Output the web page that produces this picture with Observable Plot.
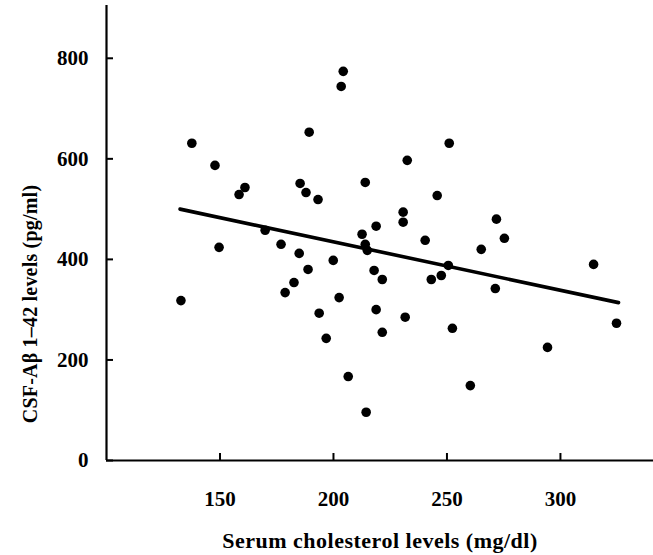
<!DOCTYPE html>
<html>
<head>
<meta charset="utf-8">
<script src="https://cdn.jsdelivr.net/npm/d3@7"></script>
<script src="https://cdn.jsdelivr.net/npm/@observablehq/plot@0.6"></script>
<style>
  body { margin: 0; background: #fff; }
  svg { display: block; }
</style>
</head>
<body>
<div id="chart"></div>
<script>
// Serum cholesterol (mg/dl) and CSF-Aβ1-42 (pg/ml)
const cholesterol = [
  132.8, 137.6, 147.8, 149.6, 158.4, 161.0, 169.9, 176.9, 184.9, 188.8,
  189.3, 185.3, 187.9, 193.2, 199.9, 182.6, 178.7, 193.7, 196.8, 204.3,
  203.4, 251.0, 232.5, 214.0, 245.7, 230.7, 230.7, 218.8, 212.6, 214.0,
  214.9, 271.8, 275.3, 240.4, 265.1, 314.6, 217.9, 221.5, 243.1, 247.5,
  250.6, 271.3, 324.7, 294.3, 260.3, 214.4, 206.5, 252.4, 221.5, 218.8,
  231.6, 202.5
];
const abeta = [
  318, 631, 587, 424, 529, 543, 458, 430, 412, 380,
  653, 551, 533, 519, 398, 354, 334, 293, 243, 774,
  744, 631, 597, 553, 527, 494, 474, 466, 450, 430,
  418, 480, 442, 438, 420, 390, 378, 360, 360, 368,
  388, 342, 273, 225, 149, 96, 167, 263, 255, 300,
  285, 324
];
// Regression line endpoints as drawn in the figure
const fitX = [132.4, 325.6];
const fitY = [500, 314];

const xTicks = [150, 200, 250, 300];
const yTicks = [0, 200, 400, 600, 800];
const xLabel = "Serum cholesterol levels (mg/dl)";
const yLabel = "CSF-Aβ 1–42 levels (pg/ml)";

const points = cholesterol.map((c, i) => ({x: c, y: abeta[i]}));
const fit = fitX.map((x, i) => ({x, y: fitY[i]}));

const font = "'Liberation Serif', 'DejaVu Serif', serif";

const chart = Plot.plot({
  width: 653,
  height: 555,
  marginLeft: 106,
  marginRight: 0,
  marginTop: 5,
  marginBottom: 95,
  style: {fontFamily: font, fontWeight: "bold", fontSize: "21px", color: "#000", background: "#fff"},
  x: {domain: [100, 341]},
  y: {domain: [0, 905]},
  marks: [
    Plot.axisY({ticks: yTicks, tickSize: -7, tickPadding: 25, strokeWidth: 2, label: null, fontSize: 21, fontWeight: "bold"}),
    Plot.axisX({ticks: xTicks, tickSize: -7, tickPadding: 38, strokeWidth: 2, label: null, fontSize: 21, fontWeight: "bold"}),
    Plot.ruleX([100], {stroke: "#000", strokeWidth: 2.2}),
    Plot.ruleY([0], {stroke: "#000", strokeWidth: 2.2}),
    Plot.line(fit, {x: "x", y: "y", stroke: "#000", strokeWidth: 3.6}),
    Plot.dot(points, {x: "x", y: "y", r: 4.8, fill: "#000", stroke: "none"}),
    Plot.text([xLabel], {frameAnchor: "bottom", dy: 87, fontSize: 22, fontWeight: "bold", fill: "#000"})
  ]
});
document.getElementById("chart").appendChild(chart);

// rotated y-axis title, placed as in the figure
d3.select(chart).append("text")
  .attr("transform", "translate(30,304) rotate(-90)")
  .attr("text-anchor", "middle")
  .attr("dominant-baseline", "central")
  .attr("font-family", font)
  .attr("font-weight", "bold")
  .attr("font-size", 20)
  .attr("fill", "#000")
  .attr("letter-spacing", "0.2px")
  .text(yLabel);

// slightly widen the x title, as in the scanned figure
d3.select(chart).selectAll("text").filter(function() { return this.textContent === xLabel; })
  .attr("letter-spacing", "0.5px");
</script>
</body>
</html>
